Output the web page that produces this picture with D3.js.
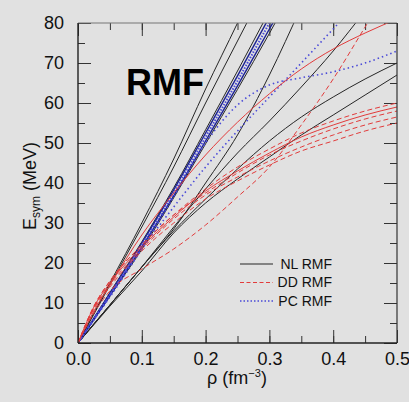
<!DOCTYPE html>
<html>
<head>
<meta charset="utf-8">
<script src="https://cdn.jsdelivr.net/npm/d3@7"></script>
<style>
  body { margin: 0; background: #e1e1e1; }
  svg { display: block; font-family: Arial, 'Liberation Sans', sans-serif; }
  .tick line { stroke: #333; }
</style>
</head>
<body>
<svg id="chart" width="409" height="402"></svg>
<script>
// density grid (fm^-3) shared by every curve
const rho = [0, 0.025, 0.05, 0.1, 0.15, 0.2, 0.25, 0.3, 0.35, 0.4, 0.45, 0.5]

// NL RMF (black solid)
const nlA1 = [0, 7.5, 15, 30, 46, 63.5, 80, 97, 114, 131, 148, 165]
const nlA2 = [0, 7.2, 14.5, 29, 44, 60, 75.5, 91, 107, 123, 139, 155]
const nlB1 = [0, 6.2, 12.6, 25.3, 38.8, 53.3, 68, 83, 98, 113, 128, 143]
const nlB2 = [0, 5.8, 11.7, 23.4, 36.3, 49.8, 63.4, 77.4, 92, 106, 120, 134]
const nlC1 = [0, 4.8, 9.5, 19, 28.5, 40, 52, 67, 84, 101, 118, 135]
const nlC2 = [0, 4.8, 9.5, 19, 29, 38.5, 47.5, 55.5, 64, 73, 83, 93]
const nlC3 = [0, 4.7, 9.5, 19, 28, 36, 43.5, 50.5, 56.5, 61.5, 66, 70]
const nlC4 = [0, 4.6, 9.2, 18, 27.5, 35, 41, 46.5, 52, 57, 62, 67]

// DD RMF (red)
const ddR1 = [0, 8, 14.5, 27, 37.5, 47, 55.2, 62.3, 68.5, 73.5, 77.5, 81]
const ddR2 = [0, 7.5, 13, 18.5, 23.5, 29.5, 36.5, 44, 54.5, 66, 79, 92]
const ddB1 = [0, 9.2, 15.5, 24.5, 32, 38.5, 44, 48.5, 52.5, 55.5, 58, 60]
const ddB2 = [0, 9, 15, 24, 31.5, 38, 43, 47.5, 51.5, 54.5, 57, 59]
const ddB3 = [0, 9.2, 15.5, 24.5, 32, 37.5, 42.5, 47, 50.5, 53.5, 56, 58]
const ddB4 = [0, 8.8, 14.5, 23.5, 31, 37, 41.5, 45.5, 49, 52, 54.5, 56.5]
const ddB5 = [0, 8.5, 14, 23, 30, 36, 40.5, 44.5, 48, 50.5, 53, 55]

// PC RMF (blue dotted)
const pcP1 = [0, 6.2, 12.4, 25, 38.3, 52.5, 66.8, 81.5, 96, 110, 124, 138]
const pcP2 = [0, 6, 12, 24.5, 37.5, 51.5, 65.5, 80, 94, 108, 122, 136]
const pcP3 = [0, 5.9, 11.8, 24, 36.8, 50.5, 64.3, 78.5, 92.5, 106.5, 120.5, 134.5]
const pcD = [0, 5.8, 11.5, 23.5, 36.5, 50, 59.5, 64.5, 66.3, 67.8, 70, 73]
const pcE = [0, 6, 12, 23.5, 34, 44, 53, 61.5, 70, 78.5, 87, 95]

const xTicks = [0, 0.1, 0.2, 0.3, 0.4, 0.5]
const yTicks = [0, 10, 20, 30, 40, 50, 60, 70, 80]
const legendNames = ['NL RMF', 'DD RMF', 'PC RMF']

const black = '#262626'
const red = '#e23b3b'
const blue = '#4a4ad8'
const navy = '#1c2290'

const curves = [
  { v: nlA1, c: black, w: 1, dash: null },
  { v: nlA2, c: black, w: 1, dash: null },
  { v: nlB1, c: black, w: 1, dash: null },
  { v: nlB2, c: black, w: 1, dash: null },
  { v: nlC1, c: black, w: 1, dash: null },
  { v: nlC2, c: black, w: 1, dash: null },
  { v: nlC3, c: black, w: 1, dash: null },
  { v: nlC4, c: black, w: 1, dash: null },
  { v: pcP1, c: navy, w: 1.4, dash: null },
  { v: pcP3, c: navy, w: 1.4, dash: null },
  { v: pcP2, c: blue, w: 2, dash: '1.5,1.5' },
  { v: pcD, c: blue, w: 1.6, dash: '1.5,3' },
  { v: pcE, c: blue, w: 1.6, dash: '1.5,3' },
  { v: ddR1, c: red, w: 1, dash: null },
  { v: ddB2, c: red, w: 1, dash: null },
  { v: ddB1, c: red, w: 1, dash: '5,3' },
  { v: ddB3, c: red, w: 1, dash: '5,3' },
  { v: ddB4, c: red, w: 1, dash: '5,3' },
  { v: ddB5, c: red, w: 1, dash: '5,3' },
  { v: ddR2, c: red, w: 1, dash: '5,3' }
]

const svg = d3.select('#chart')
const m = { left: 78, top: 23, right: 12, bottom: 59 }
const w = 409 - m.left - m.right
const h = 402 - m.top - m.bottom

const x = d3.scaleLinear().domain([0, 0.5]).range([0, w])
const y = d3.scaleLinear().domain([0, 80]).range([h, 0])

const g = svg.append('g').attr('transform', `translate(${m.left},${m.top})`)

g.append('clipPath').attr('id', 'clip')
  .append('rect').attr('width', w).attr('height', h)

//* * axes, ticks pointing inward
const minorX = d3.range(0, 0.5001, 0.05)
const minorY = d3.range(0, 80.01, 5)

const addAxis = (axis, tr, vals, size, labels) => {
  const a = g.append('g').attr('transform', tr)
    .call(axis.tickValues(vals).tickSize(size).tickPadding(labels ? 14 : 0)
      .tickFormat(labels ? labels : ''))
  a.select('.domain').remove()
  a.selectAll('text').attr('font-size', 18).attr('fill', '#111')
  return a
}
addAxis(d3.axisBottom(x), `translate(0,${h})`, minorX, -7)
addAxis(d3.axisTop(x), 'translate(0,0)', minorX, -7)
addAxis(d3.axisLeft(y), 'translate(0,0)', minorY, -7)
addAxis(d3.axisRight(y), `translate(${w},0)`, minorY, -7)
const xb = addAxis(d3.axisBottom(x), `translate(0,${h})`, xTicks, -13, d3.format('.1f'))
xb.selectAll('text').attr('dy', '0.71em').attr('y', 9)
addAxis(d3.axisTop(x), 'translate(0,0)', xTicks, -13)
addAxis(d3.axisLeft(y), 'translate(0,0)', yTicks, -13, d3.format('d'))
addAxis(d3.axisRight(y), `translate(${w},0)`, yTicks, -13)

//* * curves
const line = d3.line()
  .x((d, i) => x(rho[i]))
  .y(d => y(d))
  .curve(d3.curveMonotoneX)

g.append('g').attr('clip-path', 'url(#clip)')
  .selectAll('path')
  .data(curves)
  .enter().append('path')
  .attr('d', d => line(d.v))
  .attr('fill', 'none')
  .attr('stroke', d => d.c)
  .attr('stroke-width', d => d.w)
  .attr('stroke-dasharray', d => d.dash)

//* * frame
g.append('line').attr('x1', 0).attr('x2', w).attr('y1', 0).attr('y2', 0).attr('stroke', '#777').attr('stroke-width', 1.2)
g.append('line').attr('x1', w).attr('x2', w).attr('y1', 0).attr('y2', h).attr('stroke', '#333').attr('stroke-width', 1.2)
g.append('line').attr('x1', 0).attr('x2', 0).attr('y1', 0).attr('y2', h).attr('stroke', '#222').attr('stroke-width', 1.4)
g.append('line').attr('x1', 0).attr('x2', w).attr('y1', h).attr('y2', h).attr('stroke', '#222').attr('stroke-width', 1.4)

//* * title
g.append('text')
  .attr('x', 48).attr('y', 72)
  .attr('font-size', 36).attr('font-weight', 'bold')
  .attr('fill', '#000')
  .text('RMF')

//* * legend
const legStyles = [
  { c: black, dash: null, w: 1.2 },
  { c: red, dash: '4,2.5', w: 1 },
  { c: blue, dash: '1.5,2', w: 1.4 }
]
const leg = g.selectAll('.leg')
  .data(legendNames)
  .enter().append('g')
  .attr('class', 'leg')
  .attr('transform', (d, i) => `translate(0,${241 + i * 18.5})`)
leg.append('line')
  .attr('x1', 162).attr('x2', 195)
  .attr('stroke', (d, i) => legStyles[i].c)
  .attr('stroke-width', (d, i) => legStyles[i].w)
  .attr('stroke-dasharray', (d, i) => legStyles[i].dash)
leg.append('text')
  .attr('x', 254).attr('dy', '0.35em')
  .attr('text-anchor', 'end')
  .attr('font-size', 14).attr('fill', '#111')
  .text(d => d)

//* * axis titles
const xt = svg.append('text')
  .attr('x', 237).attr('y', 384)
  .attr('text-anchor', 'middle')
  .attr('font-size', 18).attr('fill', '#111')
xt.append('tspan').text('ρ (fm')
xt.append('tspan').attr('font-size', 11).attr('dy', -7).text('−3')
xt.append('tspan').attr('dy', 7).text(')')

const yt = svg.append('text')
  .attr('transform', 'translate(36,186) rotate(-90)')
  .attr('text-anchor', 'middle')
  .attr('font-size', 18).attr('fill', '#111')
yt.append('tspan').text('E')
yt.append('tspan').attr('font-size', 12).attr('dy', 4).text('sym')
yt.append('tspan').attr('dy', -4).text(' (MeV)')
</script>
</body>
</html>
